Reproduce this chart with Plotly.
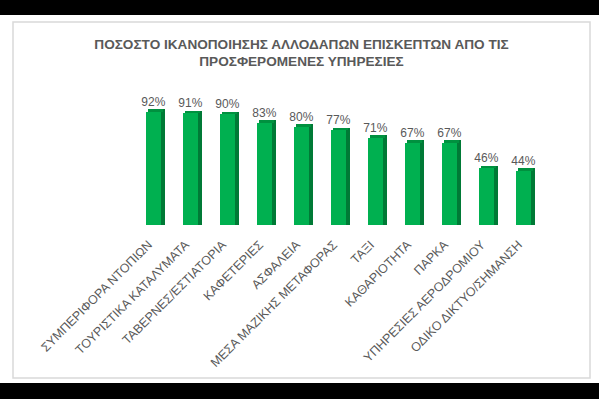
import plotly.graph_objects as go

categories = [
    "ΣΥΜΠΕΡΙΦΟΡΑ ΝΤΟΠΙΩΝ",
    "ΤΟΥΡΙΣΤΙΚΑ ΚΑΤΑΛΥΜΑΤΑ",
    "ΤΑΒΕΡΝΕΣ/ΕΣΤΙΑΤΟΡΙΑ",
    "ΚΑΦΕΤΕΡΙΕΣ",
    "ΑΣΦΑΛΕΙΑ",
    "ΜΕΣΑ ΜΑΖΙΚΗΣ ΜΕΤΑΦΟΡΑΣ",
    "ΤΑΞΙ",
    "ΚΑΘΑΡΙΟΤΗΤΑ",
    "ΠΑΡΚΑ",
    "ΥΠΗΡΕΣΙΕΣ ΑΕΡΟΔΡΟΜΙΟΥ",
    "ΟΔΙΚΟ ΔΙΚΤΥΟ/ΣΗΜΑΝΣΗ",
]
values = [92, 91, 90, 83, 80, 77, 71, 67, 67, 46, 44]
labels = [f"{v}%" for v in values]

title_text = "ΠΟΣΟΣΤΟ ΙΚΑΝΟΠΟΙΗΣΗΣ ΑΛΛΟΔΑΠΩΝ ΕΠΙΣΚΕΠΤΩΝ ΑΠΟ ΤΙΣ<br>ΠΡΟΣΦΕΡΟΜΕΝΕΣ ΥΠΗΡΕΣΙΕΣ"

W, H = 599, 399
L, R, T, B = 135, 542, 102, 225
PW, PH = R - L, B - T


def px_x(x):
    return (x - L) / PW


def px_y(y):
    return (B - y) / PH


FRONT = "#00B050"
SIDE = "#007A36"
TOP = "#00913F"
GREY = "#595959"
FONT = "Liberation Sans, Arial, sans-serif"

bw = 0.41
depth = 0.1
lift = 2

fig = go.Figure()
# side face (depth)
fig.add_bar(
    x=categories, y=[v + lift for v in values],
    width=bw, offset=-bw / 2 + depth,
    marker=dict(color=SIDE, line=dict(width=0)),
    hoverinfo="skip", showlegend=False,
)
# top face
fig.add_bar(
    x=categories, y=[lift] * len(values), base=values,
    width=bw, offset=-bw / 2 + depth / 2,
    marker=dict(color=TOP, line=dict(width=0)),
    hoverinfo="skip", showlegend=False,
)
# front face
fig.add_bar(
    x=categories, y=values,
    width=bw, offset=-bw / 2,
    marker=dict(color=FRONT, line=dict(width=0)),
    text=labels, textposition="outside", cliponaxis=False,
    constraintext="none",
    textfont=dict(family=FONT, size=12, color=GREY),
    showlegend=False,
)

shapes = [
    # white sheet between the black bands
    dict(type="rect", xref="paper", yref="paper", layer="below",
         x0=px_x(0), x1=px_x(W), y0=px_y(383), y1=px_y(15),
         fillcolor="white", line=dict(width=0)),
    # chart border
    dict(type="rect", xref="paper", yref="paper", layer="below",
         x0=px_x(13), x1=px_x(590), y0=px_y(378), y1=px_y(22),
         fillcolor="rgba(0,0,0,0)", line=dict(color="#D9D9D9", width=1.5)),
]

fig.update_layout(
    width=W, height=H,
    margin=dict(l=L, r=W - R, t=T, b=H - B, autoexpand=False),
    paper_bgcolor="black",
    plot_bgcolor="rgba(0,0,0,0)",
    barmode="overlay",
    bargap=0,
    shapes=shapes,
    title=dict(
        text=title_text,
        x=301.5 / W, xanchor="center",
        y=1 - 48.5 / H, yanchor="middle",
        font=dict(family=FONT, size=13.6, color=GREY, weight="bold"),
    ),
    xaxis=dict(
        tickangle=-45, showgrid=False, showline=False, ticks="",
        tickfont=dict(family=FONT, size=12.5, color=GREY),
        ticklabelstandoff=9,
        ticklabelshift=-5,
        range=[-0.5, len(categories) - 0.5],
    ),
    yaxis=dict(visible=False, range=[0, 100]),
    font=dict(family=FONT, color=GREY),
)

fig.write_html(
    "out.html",
    config={"displayModeBar": False},
    post_script="document.body.style.margin='0';document.body.style.overflow='hidden';",
)
